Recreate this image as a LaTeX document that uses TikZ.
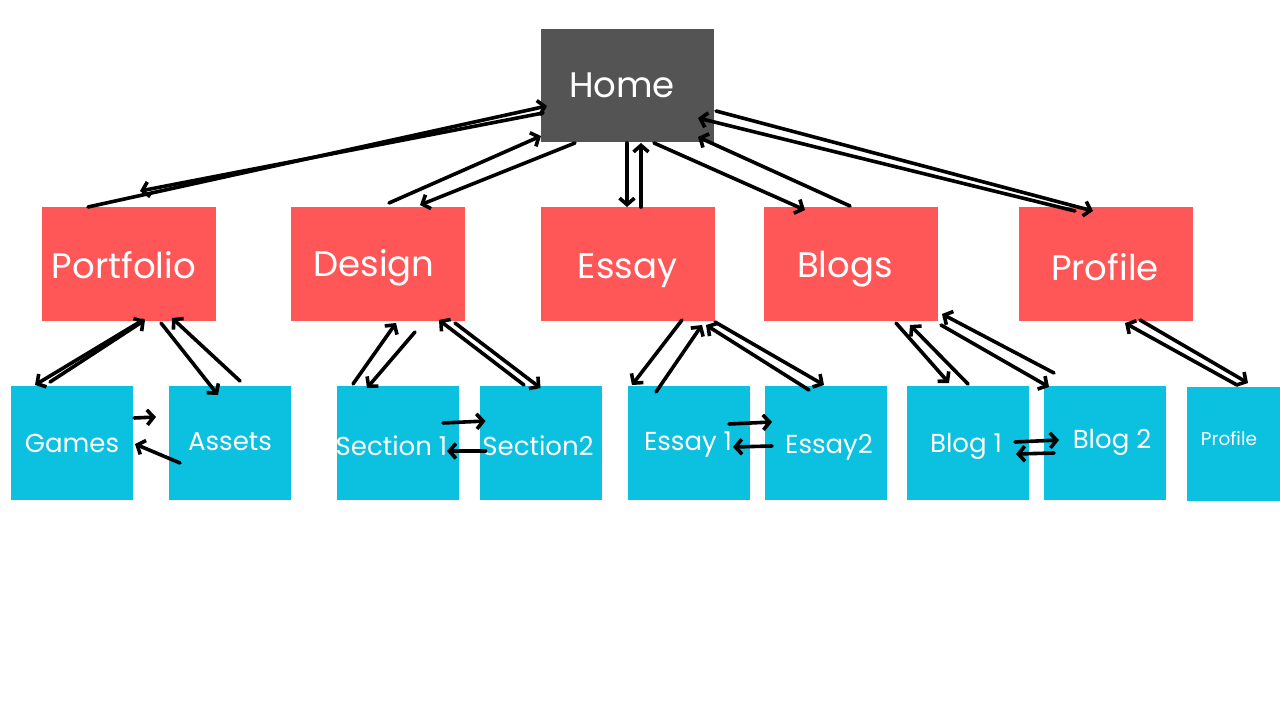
\documentclass[tikz,border=0pt]{standalone}
\usepackage{fontspec}
\setmainfont{Poppins}
\usetikzlibrary{arrows.meta}
\definecolor{homegray}{HTML}{545454}
\definecolor{redbox}{HTML}{FF5757}
\definecolor{cyanbox}{HTML}{0CC0DF}
\tikzset{
  homebox/.style={fill=homegray, minimum width=173pt, minimum height=113pt, inner sep=0pt},
  redbx/.style={fill=redbox, minimum width=174pt, minimum height=114pt, inner sep=0pt},
  cyanbx/.style={fill=cyanbox, minimum width=122pt, minimum height=114pt, inner sep=0pt},
  bigtxt/.style={text=white, font=\fontsize{35.5}{40}\selectfont},
  midtxt/.style={text=white, font=\fontsize{26}{30}\selectfont},
  smalltxt/.style={text=white, font=\fontsize{18.5}{22}\selectfont},
  arr/.style={line width=3.6pt, line cap=round, -{Straight Barb[length=6.5pt,width=15pt]}},
}
\begin{document}
\begin{tikzpicture}[x=1pt, y=-1pt]
\fill[white] (0,0) rectangle (1280,720);
\useasboundingbox (0,0) rectangle (1280,720);

% boxes
\node[homebox, label={[bigtxt, xshift=-5.5pt]center:Home}] (home) at (627.5,85.5) {};
\node[redbx, label={[bigtxt, xshift=-5pt, yshift=-1pt]center:Portfolio}] (port) at (129,264) {};
\node[redbx, label={[bigtxt, xshift=-4pt, yshift=-4pt]center:Design}] (des) at (378,264) {};
\node[redbx, label={[bigtxt, yshift=-7pt]center:Essay}] (ess) at (627.5,264) {};
\node[redbx, label={[bigtxt, xshift=-6pt, yshift=-5pt]center:Blogs}] (blogs) at (851,264) {};
\node[redbx, label={[bigtxt, xshift=-1pt, yshift=-3pt]center:Profile}] (prof) at (1106,264) {};

\node[cyanbx, label={[midtxt]center:Games}] (games) at (72,443) {};
\node[cyanbx, label={[midtxt, yshift=1pt]center:Assets}] (assets) at (230,443) {};
\node[cyanbx, label={[midtxt, xshift=-6.5pt, yshift=-3pt]center:Section 1}] (sec1) at (398,443) {};
\node[cyanbx, label={[midtxt, xshift=-2.5pt, yshift=-3pt]center:Section2}] (sec2) at (540.5,443) {};
\node[cyanbx, label={[midtxt, xshift=-1pt, yshift=-1pt]center:Essay 1}] (ess1) at (689,443) {};
\node[cyanbx, label={[midtxt, xshift=3.5pt, yshift=-4pt]center:Essay2}] (ess2) at (825.5,443) {};
\node[cyanbx, label={[midtxt, xshift=-2pt, yshift=-3pt]center:Blog 1}] (blog1) at (968,443) {};
\node[cyanbx, label={[midtxt, xshift=7pt, yshift=1pt]center:Blog 2}] (blog2) at (1105,443) {};
\node[cyanbx, minimum width=93pt, label={[smalltxt, xshift=-4.5pt, yshift=5pt]center:Profile}] (profc) at (1233.5,444) {};

% top level connectors
\draw[arr] ([shift={(-41,-57)}]port.center) -- ([shift={(-80.5,20.5)}]home.center);
\draw[arr] ([shift={(-84.5,27.5)}]home.center) -- ([shift={(11,-73)}]port.center);
\draw[arr] ([shift={(11,-61)}]des.center) -- ([shift={(-86.5,50.5)}]home.center);
\draw[arr] ([shift={(-52.5,57.5)}]home.center) -- ([shift={(42,-59)}]des.center);
\draw[arr] ([shift={(-0.5,57.5)}]home.center) -- ([shift={(-0.5,-57)}]ess.center);
\draw[arr] ([shift={(13.5,-57)}]ess.center) -- ([shift={(13.5,57.5)}]home.center);
\draw[arr] ([shift={(26.5,57.5)}]home.center) -- ([shift={(-46,-54)}]blogs.center);
\draw[arr] ([shift={(-1,-58)}]blogs.center) -- ([shift={(70.5,51.5)}]home.center);
\draw[arr] ([shift={(88.5,25.5)}]home.center) -- ([shift={(-13,-53)}]prof.center);
\draw[arr] ([shift={(-31,-53)}]prof.center) -- ([shift={(70.5,32.5)}]home.center);

% portfolio children
\draw[arr] ([shift={(14,56)}]port.center) -- ([shift={(-37,-58)}]games.center);
\draw[arr] ([shift={(-22,-61)}]games.center) -- ([shift={(16,56)}]port.center);
\draw[arr] ([shift={(32,59)}]port.center) -- ([shift={(-12,-48)}]assets.center);
\draw[arr] ([shift={(10,-62)}]assets.center) -- ([shift={(43,54)}]port.center);
\draw[arr] ([shift={(62,-25)}]games.center) -- ([shift={(-74,-26)}]assets.center);
\draw[arr] ([shift={(-50,20)}]assets.center) -- ([shift={(63,1)}]games.center);

% design children
\draw[arr] ([shift={(-45,-59)}]sec1.center) -- ([shift={(18,59)}]des.center);
\draw[arr] ([shift={(37,68)}]des.center) -- ([shift={(-31,-55)}]sec1.center);
\draw[arr] ([shift={(-16.5,-58)}]sec2.center) -- ([shift={(61,56)}]des.center);
\draw[arr] ([shift={(77,59)}]des.center) -- ([shift={(0,-55)}]sec2.center);
\draw[arr] ([shift={(45,-20)}]sec1.center) -- ([shift={(-55,-22)}]sec2.center);
\draw[arr] ([shift={(-55,8)}]sec2.center) -- ([shift={(49,8)}]sec1.center);

% essay children
\draw[arr] ([shift={(54.5,56)}]ess.center) -- ([shift={(-57,-58)}]ess1.center);
\draw[arr] ([shift={(-33,-51)}]ess1.center) -- ([shift={(74.5,61)}]ess.center);
\draw[arr] ([shift={(87.5,58)}]ess.center) -- ([shift={(-1.5,-58)}]ess2.center);
\draw[arr] ([shift={(-16.5,-53)}]ess2.center) -- ([shift={(78.5,61)}]ess.center);
\draw[arr] ([shift={(40,-19)}]ess1.center) -- ([shift={(-53.5,-21)}]ess2.center);
\draw[arr] ([shift={(-53.5,3)}]ess2.center) -- ([shift={(44,4)}]ess1.center);

% blog children
\draw[arr] ([shift={(45,59)}]blogs.center) -- ([shift={(-19,-60)}]blog1.center);
\draw[arr] ([shift={(0,-59)}]blog1.center) -- ([shift={(59,61)}]blogs.center);
\draw[arr] ([shift={(90,61)}]blogs.center) -- ([shift={(-56,-56)}]blog2.center);
\draw[arr] ([shift={(-51,-70)}]blog2.center) -- ([shift={(91,50)}]blogs.center);
\draw[arr] ([shift={(47,-1)}]blog1.center) -- ([shift={(-46,-3)}]blog2.center);
\draw[arr] ([shift={(-51,10)}]blog2.center) -- ([shift={(48,11)}]blog1.center);

% profile child
\draw[arr] ([shift={(34,56)}]prof.center) -- ([shift={(14.5,-61)}]profc.center);
\draw[arr] ([shift={(3.5,-59)}]profc.center) -- ([shift={(19,59)}]prof.center);
\end{tikzpicture}
\end{document}
